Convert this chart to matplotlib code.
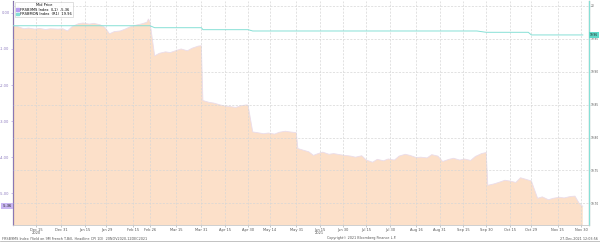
import numpy as np
import pandas as pd
import matplotlib
matplotlib.use("Agg")
import matplotlib.pyplot as plt
from matplotlib.patches import Patch

# Left series (L1) - mid price
l1_dates = [
    "2020-11-30", "2020-12-03", "2020-12-07", "2020-12-10", "2020-12-14", "2020-12-17",
    "2020-12-21", "2020-12-24", "2020-12-29", "2021-01-01", "2021-01-04", "2021-01-07",
    "2021-01-11", "2021-01-14", "2021-01-18", "2021-01-21", "2021-01-25", "2021-01-28",
    "2021-01-31", "2021-02-03", "2021-02-07", "2021-02-10", "2021-02-13", "2021-02-17",
    "2021-02-21", "2021-02-24", "2021-02-25", "2021-02-26", "2021-03-01", "2021-03-04",
    "2021-03-08", "2021-03-11", "2021-03-15", "2021-03-18", "2021-03-22", "2021-03-25",
    "2021-03-29", "2021-03-31", "2021-04-01", "2021-04-05", "2021-04-08", "2021-04-12",
    "2021-04-15", "2021-04-19", "2021-04-22", "2021-04-26", "2021-04-29", "2021-04-30",
    "2021-05-03", "2021-05-06", "2021-05-10", "2021-05-13", "2021-05-17", "2021-05-20",
    "2021-05-24", "2021-05-27", "2021-05-31", "2021-06-01", "2021-06-04", "2021-06-08",
    "2021-06-11", "2021-06-14", "2021-06-17", "2021-06-21", "2021-06-24", "2021-06-28",
    "2021-07-01", "2021-07-05", "2021-07-08", "2021-07-12", "2021-07-15", "2021-07-19",
    "2021-07-22", "2021-07-26", "2021-07-29", "2021-08-02", "2021-08-05", "2021-08-09",
    "2021-08-12", "2021-08-16", "2021-08-19", "2021-08-23", "2021-08-26", "2021-08-30",
    "2021-09-02", "2021-09-06", "2021-09-09", "2021-09-13", "2021-09-16", "2021-09-20",
    "2021-09-23", "2021-09-27", "2021-09-30", "2021-10-01", "2021-10-05", "2021-10-08",
    "2021-10-12", "2021-10-15", "2021-10-19", "2021-10-22", "2021-10-26", "2021-10-29",
    "2021-11-02", "2021-11-05", "2021-11-09", "2021-11-12", "2021-11-16", "2021-11-19",
    "2021-11-23", "2021-11-26", "2021-11-29", "2021-12-01",
]
l1_vals = [
    -0.36, -0.38, -0.44, -0.42, -0.45, -0.43,
    -0.46, -0.44, -0.45, -0.44, -0.50, -0.38,
    -0.30, -0.28, -0.31, -0.29, -0.33, -0.40,
    -0.58, -0.52, -0.50, -0.45, -0.39, -0.34,
    -0.30, -0.26, -0.17, -0.25, -1.19, -1.12,
    -1.08, -1.10, -1.04, -1.00, -1.05, -0.98,
    -0.92, -0.91, -2.43, -2.48, -2.50, -2.55,
    -2.58, -2.60, -2.62, -2.57, -2.55, -2.56,
    -3.30, -3.32, -3.35, -3.33, -3.36, -3.31,
    -3.28, -3.30, -3.32, -3.76, -3.80, -3.85,
    -3.95, -3.90, -3.86, -3.92, -3.90, -3.93,
    -3.95, -3.97, -4.00, -3.96, -4.08, -4.14,
    -4.06, -4.10, -4.05, -4.08, -3.97, -3.92,
    -3.95, -4.01, -4.00, -4.02, -3.93, -3.97,
    -4.12, -4.06, -4.03, -4.08, -4.05, -4.09,
    -3.98, -3.90, -3.87, -4.78, -4.74, -4.70,
    -4.64, -4.66, -4.70, -4.57, -4.62, -4.66,
    -5.14, -5.10, -5.18, -5.14, -5.11, -5.13,
    -5.09, -5.08, -5.30, -5.36,
]

# Right series (R1)
r1_dates = ["2020-11-30", "2021-02-26", "2021-03-01", "2021-03-31", "2021-04-01",
            "2021-04-30", "2021-05-03", "2021-09-24", "2021-09-30", "2021-10-27",
            "2021-10-29", "2021-12-01"]
r1_vals = [19.970, 19.970, 19.967, 19.967, 19.964,
           19.964, 19.962, 19.962, 19.960, 19.960,
           19.956, 19.956]

tick_dates = ["2020-12-15", "2020-12-31", "2021-01-15", "2021-01-29", "2021-02-15",
              "2021-02-26", "2021-03-15", "2021-03-31", "2021-04-15", "2021-04-30",
              "2021-05-14", "2021-05-31", "2021-06-15", "2021-06-30", "2021-07-15",
              "2021-07-30", "2021-08-16", "2021-08-31", "2021-09-15", "2021-09-30",
              "2021-10-15", "2021-10-29", "2021-11-15", "2021-11-30"]
year_labels = {"2020-12-15": "2020", "2021-06-15": "2021"}

left_ticks = [0, -1, -2, -3, -4, -5]
right_ticks = [20.0, 19.95, 19.90, 19.85, 19.80, 19.75, 19.70]

legend_title = "Mid Price"
l1_label = "FRSB9MS Index  (L1)  -5.36"
r1_label = "FRSBMON Index  (R1)  19.96"
foot_left = "FRSB9MS Index (Yield on 9M French T-Bill, Headline CPI 1D)  20NOV2020-12DEC2021"
foot_mid = "Copyright\u00a9 2021 Bloomberg Finance L.P."
foot_right = "27-Dec-2021 12:03:56"

c_fill = "#fce0c9"
c_edge = "#eadcea"
c_left = "#a58fd8"
c_cyan = "#86e0d6"
fs = 2.6

l1_x = pd.to_datetime(l1_dates)
r1_x = pd.to_datetime(r1_dates)
ticks_x = pd.to_datetime(tick_dates)

fig = plt.figure(figsize=(6, 2.42), dpi=100)
ax = fig.add_axes([13 / 600, 1 - 225 / 242, 576 / 600, 224 / 242])
ax2 = ax.twinx()

ax.fill_between(l1_x, l1_vals, -10, color=c_fill, lw=0, zorder=1)
ax.plot(l1_x, l1_vals, color=c_edge, lw=0.6, zorder=2)
ax2.plot(r1_x, r1_vals, color=c_cyan, lw=0.7, zorder=3)

ax.set_xlim(pd.Timestamp("2020-11-30"), pd.Timestamp("2021-12-05"))
ax.set_ylim(-5.88, 0.33)
ax2.set_ylim(19.667, 20.0076)

ax.set_xticks(ticks_x)
ax.set_xticklabels([d.strftime("%b %d") for d in ticks_x], fontsize=fs, color="#555555")
for d, y in year_labels.items():
    ax.text(pd.Timestamp(d), -0.028, y, transform=ax.get_xaxis_transform(),
            ha="center", va="top", fontsize=fs, color="#555555")
ax.tick_params(axis="x", length=1.2, width=0.4, pad=0.8, color="#999999")

ax.set_yticks(left_ticks)
ax.set_yticklabels([f"{t:.2f}" for t in left_ticks], fontsize=fs, color="#8e7cc0")
ax.tick_params(axis="y", length=1.5, width=0.4, pad=1, color=c_left)

ax2.set_yticks(right_ticks)
ax2.set_yticklabels(["20" if t == 20 else f"{t:.2f}" for t in right_ticks],
                    fontsize=2.1, color="#555555")
ax2.tick_params(axis="y", length=1.0, width=0.4, pad=0.5, color=c_cyan)

ax.grid(axis="x", color="#d6d6d6", ls=(0, (3, 2)), lw=0.5)
ax2.grid(axis="y", color="#d6d6d6", ls=(0, (3, 2)), lw=0.5)
ax.set_axisbelow(False)

for a in (ax, ax2):
    a.spines["top"].set_visible(False)
    a.spines["bottom"].set_color("#cccccc")
    a.spines["bottom"].set_linewidth(0.5)
ax2.spines["left"].set_color(c_left)
ax2.spines["left"].set_linewidth(0.6)
ax2.spines["right"].set_color(c_cyan)
ax2.spines["right"].set_linewidth(0.8)

# last value boxes
ax.annotate(f"{l1_vals[-1]:.2f}", xy=(0, l1_vals[-1]), xycoords=("axes fraction", "data"),
            xytext=(-1, 0), textcoords="offset points", ha="right", va="center",
            fontsize=fs, color="#222222",
            bbox=dict(boxstyle="square,pad=0.3", fc="#c9b6f2", ec="none"))
ax2.annotate(f"{r1_vals[-1]:.2f}", xy=(1, r1_vals[-1]), xycoords=("axes fraction", "data"),
             xytext=(0.8, 0), textcoords="offset points", ha="left", va="center",
             fontsize=2.1, color="#222222",
             bbox=dict(boxstyle="square,pad=0.3", fc="#5fd8c8", ec="none"))

handles = [Patch(color="#b9a0f0", label=l1_label), Patch(color=c_cyan, label=r1_label)]
leg = ax2.legend(handles=handles, title=legend_title, loc="upper left",
                 bbox_to_anchor=(0.002, 1.0), fontsize=fs, title_fontsize=fs,
                 frameon=True, fancybox=False, edgecolor="#bbbbbb",
                 handlelength=0.8, handleheight=0.8, handletextpad=0.4,
                 borderpad=0.3, labelspacing=0.2, borderaxespad=0.2)
leg.get_frame().set_linewidth(0.4)

fy = 1 - 238.5 / 242
fig.text(2 / 600, fy, foot_left, fontsize=2.4, color="#555555", va="center")
fig.text(362 / 600, fy, foot_mid, fontsize=2.4, color="#555555", va="center", ha="center")
fig.text(598 / 600, fy, foot_right, fontsize=2.4, color="#555555", va="center", ha="right")
fig.add_artist(plt.Line2D([0, 1], [1 - 241 / 242] * 2, color="#aaaaaa", lw=0.5))

fig.savefig("out.png", dpi=100)
